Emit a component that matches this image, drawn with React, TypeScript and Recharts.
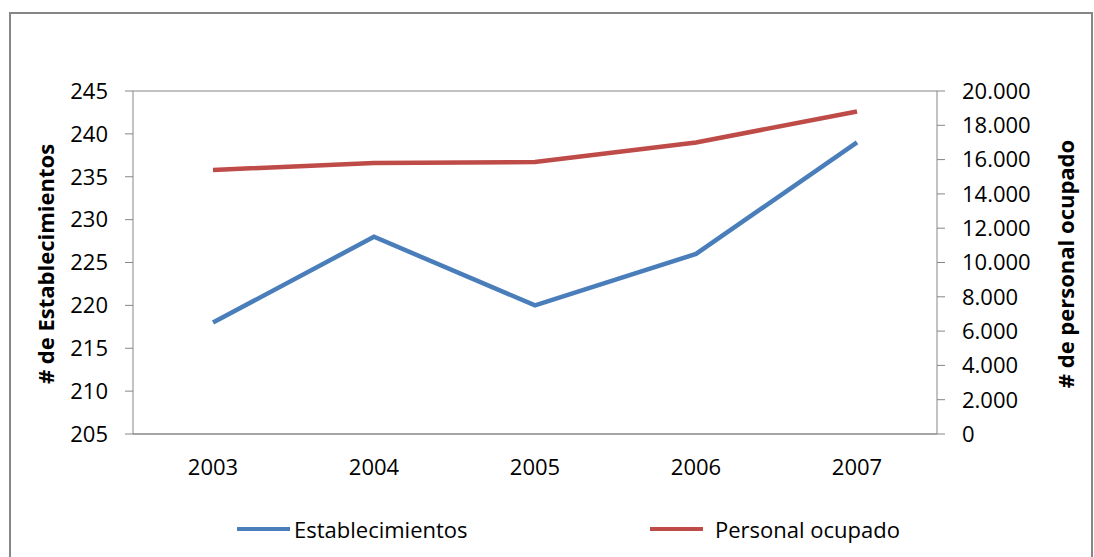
import React from 'react';
import { LineChart, Line, XAxis, YAxis, CartesianGrid } from 'recharts';

const years = ['2003', '2004', '2005', '2006', '2007'];
const establecimientos = [218, 228, 220, 226, 239];
const personalOcupado = [15400, 15800, 15860, 17000, 18800];
const leftTicks = [205, 210, 215, 220, 225, 230, 235, 240, 245];
const rightTicks = [0, 2000, 4000, 6000, 8000, 10000, 12000, 14000, 16000, 18000, 20000];

const BLUE = '#4a7ebb';
const RED = '#be4b48';
const GRAY = '#868686';
const FONT = '"Open Sans", sans-serif';

const data = years.map((year, i) => ({
  year,
  establecimientos: establecimientos[i],
  personal: personalOcupado[i],
}));

// 20000 -> "20.000"
const fmtThousands = (v: number) => String(v).replace(/\B(?=(\d{3})+(?!\d))/g, '.');

const tickStyle = { fill: '#000', fontSize: 22, fontFamily: FONT };

function AxisTitle({ x, y, text }: { x: number; y: number; text: string }) {
  return (
    <text
      x={x}
      y={y}
      transform={`rotate(-90, ${x}, ${y})`}
      textAnchor="middle"
      dominantBaseline="central"
      fontFamily={FONT}
      fontWeight="bold"
      fontSize={22}
      fill="#000"
    >
      {text}
    </text>
  );
}

export default function App() {
  return (
    <div
      style={{ position: 'absolute', left: 0, top: 0, width: 1094, height: 557, overflow: 'hidden', background: '#fff' }}
    >
      <div
        style={{ position: 'absolute', left: 9, top: 12, width: 1080, height: 600, border: `2px solid ${GRAY}` }}
      />
      <div style={{ position: 'absolute', left: 0, top: 0 }}>
        <LineChart
          width={1094}
          height={557}
          data={data}
          margin={{ top: 91, right: 0, bottom: 83, left: 0 }}
        >
          <CartesianGrid vertical={false} stroke={GRAY} strokeWidth={1} />
          <XAxis
            dataKey="year"
            padding={{ left: 80, right: 80 }}
            height={40}
            tickLine={false}
            tickSize={0}
            tickMargin={25}
            axisLine={{ stroke: GRAY }}
            tick={tickStyle}
          />
          <YAxis
            yAxisId="left"
            width={133}
            domain={[205, 245]}
            ticks={leftTicks}
            interval={0}
            tickSize={8}
            tickMargin={17}
            axisLine={{ stroke: GRAY }}
            tickLine={{ stroke: GRAY }}
            tick={tickStyle}
            label={{ content: () => <AxisTitle x={45} y={264} text="# de Establecimientos" /> }}
          />
          <YAxis
            yAxisId="right"
            orientation="right"
            width={157}
            domain={[0, 20000]}
            ticks={rightTicks}
            interval={0}
            tickSize={8}
            tickMargin={17}
            tickFormatter={fmtThousands}
            axisLine={{ stroke: GRAY }}
            tickLine={{ stroke: GRAY }}
            tick={{ ...tickStyle, textAnchor: 'start' }}
            label={{ content: () => <AxisTitle x={1065} y={264} text="# de personal ocupado" /> }}
          />
          <Line
            yAxisId="right"
            dataKey="personal"
            stroke={RED}
            strokeWidth={4.5}
            dot={false}
            isAnimationActive={false}
          />
          <Line
            yAxisId="left"
            dataKey="establecimientos"
            stroke={BLUE}
            strokeWidth={4.5}
            dot={false}
            isAnimationActive={false}
          />
        </LineChart>
      </div>
      <div
        style={{ position: 'absolute', left: 237, top: 514, display: 'flex', alignItems: 'center', fontFamily: FONT, fontSize: 22, height: 30 }}
      >
        <span style={{ display: 'inline-block', width: 53, height: 4, background: BLUE, marginRight: 4 }} />
        <span>Establecimientos</span>
      </div>
      <div
        style={{ position: 'absolute', left: 650, top: 514, display: 'flex', alignItems: 'center', fontFamily: FONT, fontSize: 22, height: 30 }}
      >
        <span style={{ display: 'inline-block', width: 53, height: 4, background: RED, marginRight: 12 }} />
        <span>Personal ocupado</span>
      </div>
    </div>
  );
}
